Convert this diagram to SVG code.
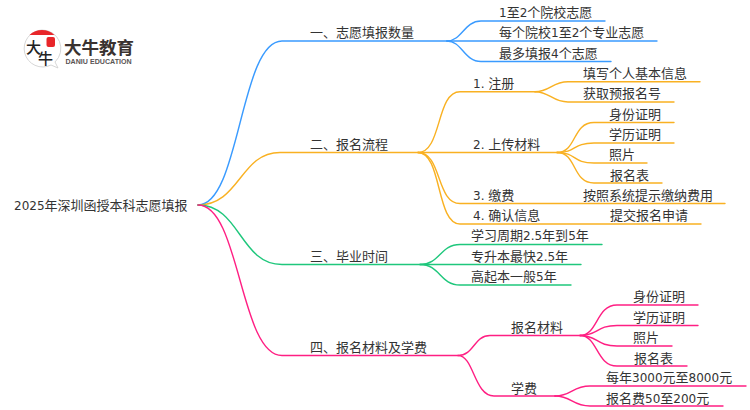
<svg xmlns="http://www.w3.org/2000/svg" width="750" height="410" viewBox="0 0 750 410">
<style>
text{font-family:"DejaVu Sans","Noto Sans CJK SC",sans-serif;font-size:13px;fill:#333}
.d{font-size:12px}
#connectors path{fill:none;stroke-width:1.4;stroke-linecap:round}
.b{stroke:#3a9bff}.o{stroke:#f9b122}.g{stroke:#1fc77c}.p{stroke:#ff1f83}
</style>
<rect width="750" height="410" fill="#fff"/>
<g id="logo">
<path d="M42 30a18.500 18.500 0 1 0 9 35l7 3-3-6a18.500 18.500 0 0 0-13-32z" fill="#fff" stroke="#ccc" stroke-width="0.8"/>
<path d="M29.500 35a18 18 0 0 1 25 0z" fill="#e8262a"/>
<rect x="46.500" y="37" width="8.500" height="10" rx="2" fill="#e8262a"/>
<text x="26" y="53" style="font-family:'Noto Sans CJK SC',sans-serif;font-size:15px;font-weight:500;fill:#222">大</text>
<text x="38" y="64" style="font-family:'Noto Sans CJK SC',sans-serif;font-size:15px;font-weight:500;fill:#222">牛</text>
<text x="64" y="53.700" style="font-family:'Noto Sans CJK SC',sans-serif;font-size:17.500px;font-weight:700;fill:#3a3230">大牛教育</text>
<text x="65.500" y="64.300" style="font-family:'Liberation Sans',sans-serif;font-size:7.100px;font-weight:700;fill:#5a5554">DANIU EDUCATION</text>
</g>
<g id="connectors">
<path class="b" d="M198 205C240 205 240 41 282 41H447"/>
<path class="b" d="M447 41C462 41 464 21 481 21H605"/>
<path class="b" d="M447 41H657"/>
<path class="b" d="M447 41C462 41 464 61.500 481 61.500H611"/>
<path class="o" d="M198 205C240 205 240 152.500 280 152.500H418"/>
<path class="o" d="M418 152.500C442 152.500 436 91.700 460 91.700H535"/>
<path class="o" d="M418 152.500H557"/>
<path class="o" d="M418 152.500C442 152.500 436 203.500 460 203.500H725"/>
<path class="o" d="M418 152.500C442 152.500 436 224 460 224H701"/>
<path class="o" d="M535 91.700C550 91.700 552 81.700 568 81.700H700"/>
<path class="o" d="M535 91.700C550 91.700 552 102 568 102H674"/>
<path class="o" d="M557 152.500C577 152.500 572 122.500 594 122.500H674"/>
<path class="o" d="M557 152.500C577 152.500 572 143 594 143H674"/>
<path class="o" d="M557 152.500C577 152.500 572 163 594 163H647"/>
<path class="o" d="M557 152.500C577 152.500 572 183 594 183H662"/>
<path class="g" d="M198 205C240 205 240 264.500 282 264.500H420"/>
<path class="g" d="M420 264.500C440 264.500 440 244.500 460 244.500H602"/>
<path class="g" d="M420 264.500H581"/>
<path class="g" d="M420 264.500C440 264.500 440 285 460 285H571"/>
<path class="p" d="M198 205C240 205 240 355.500 282 355.500H458"/>
<path class="p" d="M458 355.500C474 355.500 474 335.500 490 335.500H580"/>
<path class="p" d="M458 355.500C474 355.500 474 396 494 396H555"/>
<path class="p" d="M580 335.500C598 335.500 596 305 617 305H698"/>
<path class="p" d="M580 335.500C598 335.500 596 325.500 617 325.500H698"/>
<path class="p" d="M580 335.500C598 335.500 596 346 617 346H672"/>
<path class="p" d="M580 335.500C598 335.500 596 366 617 366H687"/>
<path class="p" d="M555 396C572 396 572 386 590 386H746"/>
<path class="p" d="M555 396C572 396 572 406 590 406H723"/>
</g>
<g id="root"><text x="14" y="210"><tspan class="d">2025</tspan>年深圳函授本科志愿填报</text></g>
<g id="n1"><text x="310" y="37">一、志愿填报数量</text></g>
<g id="n1-1"><text x="499" y="17"><tspan class="d">1</tspan>至<tspan class="d">2</tspan>个院校志愿</text></g>
<g id="n1-2"><text x="499" y="37">每个院校<tspan class="d">1</tspan>至<tspan class="d">2</tspan>个专业志愿</text></g>
<g id="n1-3"><text x="499" y="58">最多填报<tspan class="d">4</tspan>个志愿</text></g>
<g id="n2"><text x="310" y="149">二、报名流程</text></g>
<g id="n2-1"><text x="473" y="88"><tspan class="d">1. </tspan>注册</text></g>
<g id="n2-1-1"><text x="583" y="78">填写个人基本信息</text></g>
<g id="n2-1-2"><text x="583" y="98">获取预报名号</text></g>
<g id="n2-2"><text x="473" y="149"><tspan class="d">2. </tspan>上传材料</text></g>
<g id="n2-2-1"><text x="609" y="119">身份证明</text></g>
<g id="n2-2-2"><text x="609" y="139">学历证明</text></g>
<g id="n2-2-3"><text x="609" y="159">照片</text></g>
<g id="n2-2-4"><text x="610" y="180">报名表</text></g>
<g id="n2-3"><text x="473" y="200"><tspan class="d">3. </tspan>缴费</text></g>
<g id="n2-3-1"><text x="583" y="200">按照系统提示缴纳费用</text></g>
<g id="n2-4"><text x="473" y="220"><tspan class="d">4. </tspan>确认信息</text></g>
<g id="n2-4-1"><text x="610" y="220">提交报名申请</text></g>
<g id="n3"><text x="310" y="261">三、毕业时间</text></g>
<g id="n3-1"><text x="471" y="240">学习周期<tspan class="d">2.5</tspan>年到<tspan class="d">5</tspan>年</text></g>
<g id="n3-2"><text x="471" y="261">专升本最快<tspan class="d">2.5</tspan>年</text></g>
<g id="n3-3"><text x="471" y="281">高起本一般<tspan class="d">5</tspan>年</text></g>
<g id="n4"><text x="310" y="352">四、报名材料及学费</text></g>
<g id="n4-1"><text x="511" y="332">报名材料</text></g>
<g id="n4-1-1"><text x="633" y="301">身份证明</text></g>
<g id="n4-1-2"><text x="633" y="322">学历证明</text></g>
<g id="n4-1-3"><text x="633" y="342">照片</text></g>
<g id="n4-1-4"><text x="634" y="363">报名表</text></g>
<g id="n4-2"><text x="511" y="393">学费</text></g>
<g id="n4-2-1"><text x="606" y="382">每年<tspan class="d">3000</tspan>元至<tspan class="d">8000</tspan>元</text></g>
<g id="n4-2-2"><text x="606" y="403">报名费<tspan class="d">50</tspan>至<tspan class="d">200</tspan>元</text></g>
</svg>
